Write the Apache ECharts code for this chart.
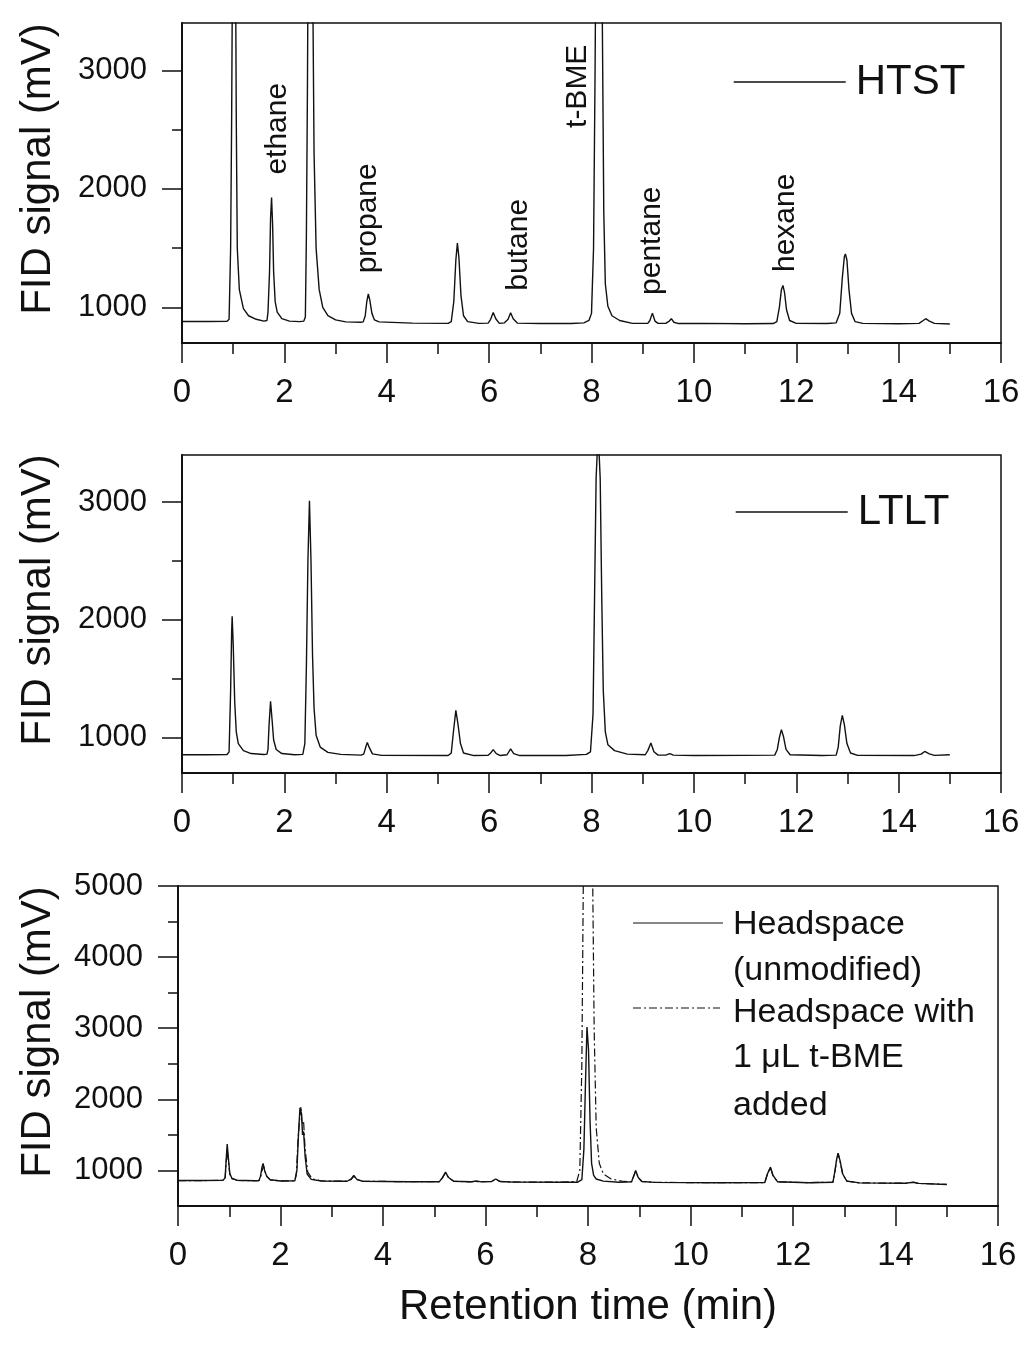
<!DOCTYPE html>
<html>
<head>
  <meta charset="utf-8">
  <title>FID chromatograms</title>
  <script src="https://cdn.jsdelivr.net/npm/echarts@6/dist/echarts.min.js"></script>
  <style>
    html, body { margin: 0; padding: 0; background: #fff; }
    #main { width: 1024px; height: 1346px; }
  </style>
</head>
<body>
  <div id="main"></div>
  <script>
    // [retention time (min), FID signal (mV)]
    var htst = [
      [0, 882], [0.5, 882], [0.88, 884], [0.92, 900], [0.95, 1500], [0.97, 2600], [0.99, 4200], [1.01, 5200],
      [1.04, 4500], [1.06, 2600], [1.08, 1500], [1.12, 1150], [1.2, 990], [1.3, 930], [1.45, 900], [1.6, 885],
      [1.66, 890], [1.68, 960], [1.71, 1300], [1.73, 1750], [1.75, 1927], [1.77, 1700], [1.79, 1300], [1.82, 1050],
      [1.86, 960], [1.95, 905], [2.1, 885], [2.3, 880], [2.38, 885], [2.41, 920], [2.43, 1600], [2.45, 2800],
      [2.47, 4500], [2.5, 6000], [2.54, 5000], [2.56, 3400], [2.58, 2300], [2.62, 1500], [2.68, 1150], [2.75, 1000],
      [2.85, 930], [3.0, 895], [3.2, 878], [3.5, 875], [3.54, 878], [3.58, 930], [3.61, 1050], [3.64, 1115],
      [3.67, 1060], [3.71, 950], [3.76, 895], [3.85, 878], [4.5, 868], [5.2, 866], [5.26, 880], [5.31, 1050],
      [5.35, 1400], [5.38, 1544], [5.41, 1420], [5.45, 1100], [5.5, 930], [5.58, 880], [5.8, 866], [5.98, 868],
      [6.03, 900], [6.08, 958], [6.13, 905], [6.2, 866], [6.3, 870], [6.37, 900], [6.42, 955], [6.47, 905],
      [6.55, 868], [7.0, 864], [7.6, 864], [7.85, 870], [7.95, 890], [8.0, 950], [8.04, 1500], [8.07, 3000],
      [8.1, 5000], [8.14, 6000], [8.18, 5000], [8.21, 3500], [8.24, 1800], [8.27, 1200], [8.32, 1010], [8.4, 930],
      [8.55, 890], [8.8, 866], [9.1, 866], [9.14, 890], [9.19, 952], [9.24, 885], [9.3, 866], [9.45, 866],
      [9.52, 885], [9.56, 905], [9.61, 875], [9.7, 864], [10.2, 866], [11.0, 862], [11.55, 864], [11.62, 880],
      [11.67, 1000], [11.71, 1150], [11.74, 1185], [11.77, 1130], [11.81, 980], [11.87, 890], [12.0, 866], [12.6, 864],
      [12.78, 870], [12.85, 950], [12.9, 1250], [12.94, 1430], [12.96, 1451], [12.99, 1400], [13.03, 1150], [13.08, 950],
      [13.15, 880], [13.3, 866], [14.0, 862], [14.4, 866], [14.48, 890], [14.53, 905], [14.6, 885], [14.7, 866],
      [15.0, 860]
    ];

    var ltlt = [
      [0, 855], [0.5, 855], [0.88, 857], [0.92, 880], [0.95, 1400], [0.97, 1900], [0.98, 2030], [1.0, 1800],
      [1.03, 1300], [1.06, 1050], [1.1, 950], [1.2, 890], [1.35, 865], [1.6, 857], [1.66, 860], [1.68, 900],
      [1.7, 1100], [1.73, 1309], [1.76, 1150], [1.79, 980], [1.84, 900], [1.95, 865], [2.2, 855], [2.36, 858],
      [2.4, 950], [2.43, 1600], [2.46, 2500], [2.49, 3011], [2.52, 2500], [2.55, 1700], [2.58, 1250], [2.62, 1020],
      [2.7, 920], [2.85, 875], [3.1, 858], [3.5, 852], [3.55, 860], [3.59, 920], [3.62, 960], [3.66, 915],
      [3.72, 862], [3.9, 850], [5.2, 848], [5.26, 870], [5.31, 1080], [5.35, 1232], [5.39, 1120], [5.44, 950],
      [5.5, 870], [5.7, 848], [5.98, 850], [6.03, 870], [6.08, 898], [6.14, 865], [6.22, 848], [6.35, 855],
      [6.42, 904], [6.48, 865], [6.6, 848], [7.5, 848], [7.9, 858], [7.98, 880], [8.03, 1200], [8.06, 2200],
      [8.09, 3200], [8.13, 3600], [8.17, 3200], [8.2, 2200], [8.23, 1400], [8.27, 1050], [8.32, 940], [8.45, 890],
      [8.7, 860], [9.05, 855], [9.1, 890], [9.16, 955], [9.22, 880], [9.3, 852], [9.45, 852], [9.53, 864],
      [9.6, 852], [10.0, 848], [11.0, 850], [11.58, 852], [11.63, 900], [11.67, 1000], [11.71, 1068], [11.75, 1010],
      [11.8, 900], [11.88, 855], [12.5, 848], [12.78, 852], [12.82, 920], [12.86, 1100], [12.9, 1190], [12.94, 1110],
      [12.99, 950], [13.06, 870], [13.2, 850], [14.3, 848], [14.44, 860], [14.51, 883], [14.6, 862], [14.7, 850],
      [15.0, 855]
    ];

    var hsPlain = [
      [0, 858], [0.5, 858], [0.88, 860], [0.92, 900], [0.94, 1150], [0.96, 1370], [0.98, 1200], [1.01, 960],
      [1.05, 890], [1.15, 862], [1.5, 855], [1.58, 858], [1.61, 920], [1.64, 1050], [1.66, 1100], [1.69, 1000],
      [1.73, 920], [1.8, 870], [2.0, 852], [2.28, 855], [2.32, 1000], [2.35, 1500], [2.38, 1880], [2.41, 1800],
      [2.43, 1500], [2.45, 1550], [2.48, 1200], [2.52, 950], [2.6, 875], [2.8, 852], [3.3, 848], [3.38, 880],
      [3.43, 930], [3.49, 875], [3.6, 848], [4.5, 842], [5.1, 842], [5.16, 900], [5.22, 977], [5.28, 900],
      [5.38, 848], [5.7, 840], [5.82, 852], [5.92, 840], [6.12, 845], [6.2, 880], [6.28, 845], [6.5, 838],
      [7.5, 833], [7.8, 835], [7.88, 870], [7.92, 1300], [7.95, 2200], [7.98, 3018], [8.01, 2700], [8.04, 1700],
      [8.07, 1100], [8.11, 930], [8.16, 880], [8.3, 850], [8.6, 835], [8.85, 840], [8.89, 920], [8.93, 1000],
      [8.98, 900], [9.05, 845], [9.3, 832], [10.5, 828], [11.45, 830], [11.5, 950], [11.56, 1047], [11.61, 930],
      [11.7, 840], [12.3, 828], [12.78, 835], [12.82, 1000], [12.85, 1150], [12.88, 1244], [12.92, 1130], [12.97, 950],
      [13.05, 850], [13.3, 825], [14.2, 820], [14.35, 835], [14.45, 818], [15.0, 803]
    ];

    var hsSpiked = [
      [0, 858], [0.5, 858], [0.88, 860], [0.92, 900], [0.94, 1100], [0.96, 1300], [0.98, 1150], [1.01, 950],
      [1.05, 885], [1.15, 860], [1.5, 855], [1.58, 858], [1.61, 900], [1.64, 1000], [1.67, 1060], [1.7, 980],
      [1.74, 910], [1.8, 868], [2.0, 852], [2.28, 855], [2.31, 950], [2.34, 1400], [2.37, 1700], [2.4, 1900],
      [2.42, 1650], [2.45, 1700], [2.48, 1300], [2.53, 980], [2.62, 880], [2.8, 852], [3.3, 848], [3.38, 875],
      [3.43, 920], [3.49, 872], [3.6, 848], [4.5, 842], [5.1, 842], [5.16, 895], [5.22, 965], [5.28, 895],
      [5.38, 848], [5.7, 840], [6.12, 845], [6.2, 875], [6.28, 845], [6.5, 838], [7.5, 835], [7.78, 845],
      [7.84, 1000], [7.88, 2500], [7.91, 5200], [8.0, 6500], [8.09, 5200], [8.12, 3000], [8.16, 1600], [8.22, 1100],
      [8.3, 950], [8.45, 880], [8.7, 845], [8.85, 842], [8.89, 915], [8.93, 990], [8.98, 900], [9.05, 845],
      [9.3, 832], [10.5, 828], [11.45, 830], [11.5, 945], [11.56, 1040], [11.61, 925], [11.7, 840], [12.3, 828],
      [12.78, 835], [12.82, 990], [12.85, 1140], [12.88, 1235], [12.92, 1120], [12.97, 945], [13.05, 850], [13.3, 825],
      [14.2, 820], [14.35, 832], [14.45, 818], [15.0, 803]
    ];

    // peak names written over the HTST trace, anchored in data units
    var peakNames = ['ethane', 'propane', 'butane', 't-BME', 'pentane', 'hexane'];
    var peakLabelAt = [[1.875, 2508], [3.63, 1752], [6.58, 1529], [7.73, 2866], [9.18, 1563], [11.8, 1714]];

    var yMajorTop = [1000, 2000, 3000];
    var yMinorTop = [1500, 2500];
    var yMajorBottom = [1000, 2000, 3000, 4000, 5000];
    var yMinorBottom = [1500, 2500, 3500, 4500];

    var headspaceLegend = ['Headspace', '(unmodified)', 'Headspace with', '1 μL t-BME', 'added'];

    var FONT = "'Liberation Sans', Arial, Helvetica, sans-serif";
    var INK = '#111';

    var chart = echarts.init(document.getElementById('main'));

    var grids = [
      { left: 182, top: 23, width: 819, height: 320 },
      { left: 182, top: 455, width: 819, height: 318 },
      { left: 178, top: 886, width: 820, height: 320 }
    ];
    grids.forEach(function (g) {
      g.show = true;
      g.borderColor = INK;
      g.borderWidth = 1.5;
      g.backgroundColor = 'transparent';
    });

    function xAxisFor(i, withName) {
      var ax = {
        type: 'value', gridIndex: i, min: 0, max: 16, interval: 2,
        axisLine: { show: true, onZero: false, lineStyle: { color: INK, width: 2 } },
        axisTick: { show: true, length: 20, lineStyle: { color: INK, width: 1.5 } },
        minorTick: { show: true, splitNumber: 2, length: 11, lineStyle: { color: INK, width: 1.5 } },
        axisLabel: { color: INK, fontSize: 33, fontFamily: FONT, margin: 33 },
        splitLine: { show: false }, minorSplitLine: { show: false }
      };
      if (withName) {
        ax.name = 'Retention time (min)';
        ax.nameLocation = 'middle';
        ax.nameGap = 80;
        ax.nameTextStyle = { color: INK, fontSize: 42, fontFamily: FONT };
      }
      return ax;
    }

    function yAxesFor(i, min, max, majors, minors, gap) {
      return [{
        type: 'value', gridIndex: i, min: min, max: max, position: 'left', offset: 0,
        name: 'FID signal (mV)', nameLocation: 'middle', nameGap: gap,
        nameTextStyle: { color: INK, fontSize: 42, fontFamily: FONT, padding: [0, 0, 0, 28] },
        axisLine: { show: true, onZero: false, lineStyle: { color: INK, width: 2 } },
        axisTick: { show: true, length: 20, customValues: majors, lineStyle: { color: INK, width: 1.5 } },
        axisLabel: {
          color: INK, fontSize: 31, fontFamily: FONT, margin: 35, customValues: majors,
          formatter: function (v) { return String(v); }
        },
        splitLine: { show: false }
      }, {
        type: 'value', gridIndex: i, min: min, max: max, position: 'left', offset: 0,
        axisLine: { show: false },
        axisTick: { show: true, length: 10, customValues: minors, lineStyle: { color: INK, width: 1.5 } },
        axisLabel: { show: false },
        splitLine: { show: false }
      }];
    }

    var yAxes = [].concat(
      yAxesFor(0, 700, 3400, yMajorTop, yMinorTop, 123),
      yAxesFor(1, 700, 3400, yMajorTop, yMinorTop, 123),
      yAxesFor(2, 500, 5000, yMajorBottom, yMinorBottom, 119)
    );

    var marks = peakNames.map(function (n, k) {
      return { name: n, coord: peakLabelAt[k] };
    });

    function trace(name, data, xi, yi, dash, width) {
      return {
        name: name, type: 'line', data: data, xAxisIndex: xi, yAxisIndex: yi,
        symbol: 'none', clip: true, animation: false,
        itemStyle: { color: INK },
        lineStyle: { color: INK, width: width, type: dash || 'solid' },
        z: 3
      };
    }

    var s1 = trace('HTST', htst, 0, 0, null, 1.4);
    s1.markPoint = {
      symbol: 'rect', symbolSize: 1, animation: false, silent: true,
      itemStyle: { color: 'rgba(0,0,0,0)' },
      label: {
        show: true, position: 'inside', rotate: 90, formatter: '{b}',
        color: INK, fontSize: 30, fontFamily: FONT
      },
      data: marks
    };

    function legendFor(name, left, top) {
      return {
        data: [name], left: left, top: top, padding: 0, selectedMode: false,
        itemWidth: 112, itemHeight: 14,
        itemStyle: { opacity: 0, borderWidth: 0 },
        lineStyle: { width: 1.4 },
        textStyle: { color: INK, fontSize: 42, fontFamily: FONT, padding: [0, 0, 0, 5] }
      };
    }

    // legend of the bottom panel: two samples followed by wrapped text
    var legendY = [925, 971, 1013, 1058, 1106];
    var graphics = [
      { type: 'line', shape: { x1: 633, y1: 923, x2: 723, y2: 923 }, style: { stroke: INK, lineWidth: 1.2 } },
      { type: 'line', shape: { x1: 633, y1: 1008, x2: 720, y2: 1008 }, style: { stroke: INK, lineWidth: 1.2, lineDash: [8, 3, 2, 3] } }
    ];
    headspaceLegend.forEach(function (t, k) {
      graphics.push({
        type: 'text', x: 733, y: legendY[k],
        style: { text: t, fill: INK, font: '34px ' + FONT, verticalAlign: 'middle', align: 'left' }
      });
    });

    var option = {
      animation: false,
      backgroundColor: '#fff',
      grid: grids,
      xAxis: [xAxisFor(0, false), xAxisFor(1, false), xAxisFor(2, true)],
      yAxis: yAxes,
      legend: [legendFor('HTST', 733, 61), legendFor('LTLT', 735, 491)],
      series: [
        s1,
        trace('LTLT', ltlt, 1, 2, null, 1.4),
        trace('Headspace (unmodified)', hsPlain, 2, 4, null, 1.4),
        trace('Headspace with 1 μL t-BME added', hsSpiked, 2, 4, [8, 3, 2, 3], 1.2)
      ],
      graphic: graphics
    };

    chart.setOption(option);
  </script>
</body>
</html>
